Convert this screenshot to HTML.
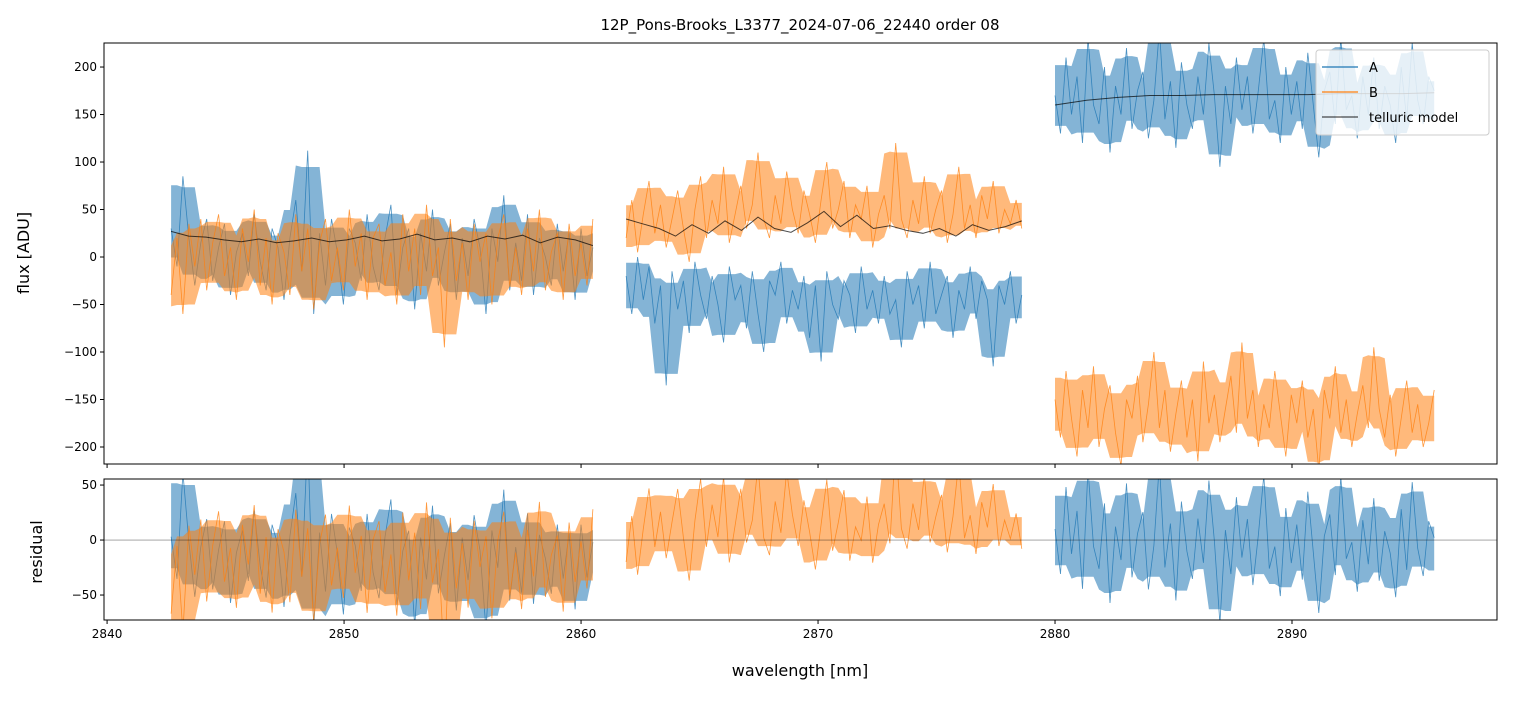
<!DOCTYPE html>
<html><head><meta charset="utf-8"><style>
body{margin:0;background:#fff;font-family:"Liberation Sans","DejaVu Sans",sans-serif;}
svg text{font-family:"DejaVu Sans","Liberation Sans",sans-serif;}
</style></head><body>
<svg id="chart" width="1513" height="696" xmlns="http://www.w3.org/2000/svg"></svg>
<script>
const segRanges=[[2842.7,2860.5],[2861.9,2878.6],[2880.0,2896.0]];
const xTicks=[2840,2850,2860,2870,2880,2890];
const yTicksTop=[-200,-150,-100,-50,0,50,100,150,200];
const yTicksRes=[-50,0,50];
const A1=[30,-10,85,20,-30,15,40,-25,10,35,-40,5,25,-20,45,-5,-35,30,10,-45,20,60,-15,112,-60,25,-30,40,5,-50,30,15,-25,45,-10,-35,20,55,-40,10,30,-55,25,-15,50,-30,5,35,-45,20,-20,40,10,-60,30,-5,65,-35,15,-25,45,-40,20,0,-30,35,-15,25,-45,30,-20,10];
const B1=[-40,20,-60,35,-10,40,-35,15,45,-20,10,-45,30,-5,50,-30,20,-50,25,5,-40,45,-15,30,-55,15,40,-25,10,-35,50,-10,25,-45,20,35,-30,5,-50,45,-15,30,-40,55,-20,10,-95,40,-25,15,-45,35,-5,25,-50,20,45,-30,10,-40,30,-15,50,-35,5,25,-45,35,-20,15,-30,40];
const A2=[-20,-60,0,-45,-10,-70,-30,-135,-15,-55,-25,-80,-5,-40,-65,-20,-50,-90,-10,-45,-30,-75,-15,-60,-100,-25,-40,-5,-70,-35,-55,-20,-85,-30,-110,-15,-50,-65,-25,-40,-80,-10,-55,-35,-70,-20,-60,-45,-95,-15,-50,-30,-75,-5,-60,-40,-20,-85,-35,-55,-10,-65,-25,-45,-115,-30,-50,-15,-70,-40];
const B2=[20,60,5,45,80,25,55,10,40,70,30,-5,50,85,20,60,35,95,15,45,75,30,55,110,40,20,65,35,90,50,25,70,45,15,60,100,30,50,80,20,55,40,75,10,45,65,30,120,40,20,60,35,85,25,50,70,15,45,95,30,55,20,65,40,80,25,50,35,60,30];
const A3=[170,130,210,150,190,120,230,160,140,200,110,180,150,220,135,175,195,125,165,240,145,185,115,205,160,135,190,150,225,170,95,180,140,210,155,190,130,175,230,145,165,120,200,150,185,135,215,160,105,175,195,140,230,155,170,125,190,150,210,135,180,160,120,200,145,225,165,140,190,175];
const B3=[-150,-190,-120,-170,-210,-140,-180,-115,-200,-160,-135,-185,-220,-150,-170,-125,-195,-155,-100,-180,-140,-205,-165,-130,-190,-150,-215,-110,-175,-145,-195,-160,-125,-185,-90,-170,-140,-200,-155,-180,-120,-165,-210,-145,-175,-130,-190,-160,-225,-140,-170,-115,-185,-150,-200,-165,-135,-180,-95,-160,-190,-145,-210,-170,-130,-185,-155,-200,-175,-140];
const M1=[27,22,21,18,16,19,15,17,20,16,18,22,17,19,24,18,20,16,22,19,23,15,21,18,12];
const M2=[40,35,30,22,34,25,38,28,42,30,26,36,48,32,44,30,33,28,25,30,22,34,28,32,38];
const M3=[160,165,168,170,170,171,171,171,171,172,172,172,173];

const svg=document.getElementById('chart');
const NS='http://www.w3.org/2000/svg';
function mk(tag,attrs,parent){const e=document.createElementNS(NS,tag);for(const k in attrs)e.setAttribute(k,attrs[k]);(parent||svg).appendChild(e);return e;}
const L=104,R=1497,T1=43,B1p=464,T2=479,B2p=620;
const xmin=2839.87,xmax=2898.65;
const xs=v=>L+(v-xmin)/(xmax-xmin)*(R-L);
const ys1=v=>T1+(225.3-v)/(225.3+217.9)*(B1p-T1);
const ys2=v=>T2+(55.5-v)/(55.5+72.7)*(B2p-T2);
const defs=mk('defs',{});
const c1=mk('clipPath',{id:'c1'},defs);mk('rect',{x:L,y:T1,width:R-L,height:B1p-T1},c1);
const c2=mk('clipPath',{id:'c2'},defs);mk('rect',{x:L,y:T2,width:R-L,height:B2p-T2},c2);
function interp(arr,r,x){const t=(x-r[0])/(r[1]-r[0])*(arr.length-1);const i=Math.max(0,Math.min(arr.length-2,Math.floor(t)));const f=t-i;return arr[i]*(1-f)+arr[i+1]*f;}
function xAt(arr,r,i){return xs(r[0]+(r[1]-r[0])*i/(arr.length-1));}
function pts(arr,r,ys){return arr.map((v,i)=>xAt(arr,r,i).toFixed(1)+','+ys(v).toFixed(1)).join(' ');}
function band(arr,r,ys,color,clip,name){
  const w=2,up=[],lo=[];
  arr.forEach((v,i)=>{const s=arr.slice(Math.max(0,i-w),i+w+1);
    const mx=Math.max(...s),mn=Math.min(...s);
    const m=(mx+mn)/2,h=(mx-mn)/2*0.8;
    up.push(xAt(arr,r,i).toFixed(1)+','+ys(m+h).toFixed(1));
    lo.unshift(xAt(arr,r,i).toFixed(1)+','+ys(m-h).toFixed(1));});
  const p=mk('polygon',{points:up.concat(lo).join(' '),fill:color,'fill-opacity':0.55,stroke:'none','clip-path':'url(#'+clip+')'});
  
  }
function line(arr,r,ys,color,w,op,clip,name){const p=mk('polyline',{points:pts(arr,r,ys),fill:'none',stroke:color,'stroke-width':w,'stroke-opacity':op,'clip-path':'url(#'+clip+')'});

return p;}
function series(arr,r,ys,color,clip,name){band(arr,r,ys,color,clip,name+'-band');line(arr,r,ys,color,0.8,0.8,clip,name);}
const CA='#1f77b4',CB='#ff7f0e';
series(A1,segRanges[0],ys1,CA,'c1','series-a-seg1');
series(A2,segRanges[1],ys1,CA,'c1','series-a-seg2');
series(A3,segRanges[2],ys1,CA,'c1','series-a-seg3');
series(B1,segRanges[0],ys1,CB,'c1','series-b-seg1');
series(B2,segRanges[1],ys1,CB,'c1','series-b-seg2');
series(B3,segRanges[2],ys1,CB,'c1','series-b-seg3');
line(M1,segRanges[0],ys1,'#000',1,0.7,'c1','telluric-model-seg1');
line(M2,segRanges[1],ys1,'#000',1,0.7,'c1','telluric-model-seg2');
line(M3,segRanges[2],ys1,'#000',1,0.7,'c1','telluric-model-seg3');
function resid(data,model,r){return data.map((v,i)=>v-interp(model,r,r[0]+(r[1]-r[0])*i/(data.length-1)));}
series(resid(A1,M1,segRanges[0]),segRanges[0],ys2,CA,'c2','residual-a-seg1');
series(resid(B1,M1,segRanges[0]),segRanges[0],ys2,CB,'c2','residual-b-seg1');
series(resid(B2,M2,segRanges[1]),segRanges[1],ys2,CB,'c2','residual-b-seg2');
series(resid(A3,M3,segRanges[2]),segRanges[2],ys2,CA,'c2','residual-a-seg3');
mk('line',{x1:L,x2:R,y1:ys2(0),y2:ys2(0),stroke:'#000','stroke-width':0.5,'stroke-opacity':0.7});
mk('rect',{x:L,y:T1,width:R-L,height:B1p-T1,fill:'none',stroke:'#000','stroke-width':1});
mk('rect',{x:L,y:T2,width:R-L,height:B2p-T2,fill:'none',stroke:'#000','stroke-width':1});
xTicks.forEach(v=>{const x=xs(v);
mk('line',{x1:x,x2:x,y1:B1p,y2:B1p+4,stroke:'#000'});
mk('line',{x1:x,x2:x,y1:B2p,y2:B2p+4,stroke:'#000'});
const t=mk('text',{x:x,y:B2p+18,'text-anchor':'middle','font-size':12});t.textContent=v;

});
yTicksTop.forEach(v=>{const y=ys1(v);mk('line',{x1:L-4,x2:L,y1:y,y2:y,stroke:'#000'});
const t=mk('text',{x:L-7,y:y+4,'text-anchor':'end','font-size':12});t.textContent=v===0?'0':String(v).replace('-','\u2212');

});
yTicksRes.forEach(v=>{const y=ys2(v);mk('line',{x1:L-4,x2:L,y1:y,y2:y,stroke:'#000'});
const t=mk('text',{x:L-7,y:y+4,'text-anchor':'end','font-size':12});t.textContent=v===0?'0':String(v).replace('-','\u2212');

});
let t=mk('text',{x:800,y:30,'text-anchor':'middle','font-size':15});t.textContent='12P_Pons-Brooks_L3377_2024-07-06_22440  order 08';


t=mk('text',{x:800,y:676,'text-anchor':'middle','font-size':16});t.textContent='wavelength [nm]';


t=mk('text',{x:0,y:0,'text-anchor':'middle','font-size':16,transform:'translate(29,253) rotate(-90)'});t.textContent='flux [ADU]';


t=mk('text',{x:0,y:0,'text-anchor':'middle','font-size':16,transform:'translate(42,552) rotate(-90)'});t.textContent='residual';


const lg=mk('g',{});


mk('rect',{x:1316,y:50,width:173,height:85,rx:3,fill:'#fff','fill-opacity':0.8,stroke:'#ccc'},lg);
[['A',CA,1],['B',CB,1],['telluric model','#000',0.7]].forEach((e,i)=>{const y=67+i*25;
const g=mk('g',{},lg);


mk('line',{x1:1322,x2:1358,y1:y,y2:y,stroke:e[1],'stroke-width':1.2,'stroke-opacity':e[2]},g);
const tt=mk('text',{x:1369,y:y+5,'font-size':13},g);tt.textContent=e[0];});
</script>
</body></html>
